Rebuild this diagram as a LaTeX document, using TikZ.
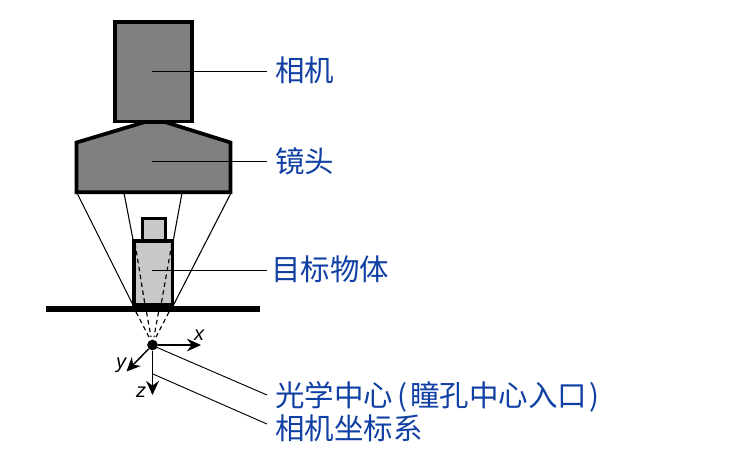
\documentclass[tikz,border=0pt]{standalone}
\usepackage{fontspec}
\setmainfont{Liberation Sans}
\setsansfont{Liberation Sans}
\newfontfamily\cjkfont{Noto Sans CJK SC}[Scale=1]
\usetikzlibrary{arrows.meta}
\definecolor{lbl}{HTML}{1040A4}
\definecolor{dark}{HTML}{808080}
\definecolor{lite}{HTML}{C8C8C8}
\tikzset{
  body/.style={draw=black,line width=2.8pt,fill=dark,line join=miter},
  objbody/.style={draw=black,line width=2.6pt,fill=lite,inner sep=0pt,outer sep=0pt},
  thin/.style={draw=black,line width=0.8pt},
  lead/.style={draw=black,line width=0.7pt},
  ray/.style={draw=black,line width=0.85pt,dash pattern=on 3.4pt off 2.6pt},
  axisline/.style={draw=black,line width=1.1pt,-{Stealth[length=10.5pt,width=9.5pt]}},
  lbltext/.style={text=lbl,font=\cjkfont\fontsize{22.1pt}{24pt}\selectfont,inner sep=0pt,anchor=west},
  axlbl/.style={font=\sffamily\itshape\fontsize{15pt}{16pt}\selectfont,inner sep=0pt,text=black},
}
\begin{document}
\begin{tikzpicture}[x=0.75pt,y=-0.75pt]
\useasboundingbox (0,0) rectangle (756,462);
% rays from lens to object
\coordinate (lbl) at (77,193); \coordinate (lbr) at (231,193);
\coordinate (lil) at (124,193); \coordinate (lir) at (182,193);
\coordinate (obl) at (133,305); \coordinate (obr) at (173.5,305);
\coordinate (otl) at (133.5,242); \coordinate (otr) at (173,242);
\draw[thin] (lbl) -- (obl);
\draw[thin] (lbr) -- (obr);
\draw[thin] (lil) -- (otl);
\draw[thin] (lir) -- (otr);
% object
\node[objbody,minimum width=17.25pt,minimum height=16.9pt] (objtop) at (154,229.7) {};
\node[objbody,minimum width=29pt,minimum height=48pt] (obj) at (153.3,273) {};
% inner dashed rays
\coordinate (dtl) at (135,243); \coordinate (dtr) at (172,243);
\coordinate (dbl) at (145,305); \coordinate (dbr) at (161,305);
\draw[ray] (dtl) -- (dbl);
\draw[ray] (dtr) -- (dbr);
% ground
\node[fill=black,minimum width=160.5pt,minimum height=3.8pt,inner sep=0pt,outer sep=0pt] (ground) at (153,309) {};
% camera and lens
\node[body,minimum width=57.8pt,minimum height=74.6pt,inner sep=0pt,outer sep=0pt] (cam) at (153.7,71.7) {};
\draw[body] (76.5,192.3) -- (76.5,142.5) -- (145,122) -- (165,122) -- (230.5,142.5) -- (230.5,192.3) -- cycle;
% origin
\node[circle,fill=black,minimum size=8pt,inner sep=0pt] (org) at (152.5,345) {};
\coordinate (b1) at (136,312); \coordinate (b2) at (146.5,312);
\coordinate (b3) at (158.5,312); \coordinate (b4) at (169,312);
\coordinate (o1) at (149,337); \coordinate (o2) at (151,337);
\coordinate (o3) at (154,337); \coordinate (o4) at (156,337);
\draw[ray] (b1) -- (o1);
\draw[ray] (b2) -- (o2);
\draw[ray] (b3) -- (o3);
\draw[ray] (b4) -- (o4);
% axes
\coordinate (xe) at (201,345); \coordinate (ye) at (126.5,371.5); \coordinate (ze) at (152.5,395);
\draw[axisline] (org) -- (xe);
\draw[axisline] (org) -- (ye);
\draw[axisline] (org) -- (ze);
\node[axlbl] (xl) at (199,335) {x};
\node[axlbl] (yl) at (121,365) {y};
\node[axlbl] (zl) at (141,392) {z};
% labels
\node[lbltext] (t1) at (275,70) {相机};
\node[lbltext] (t2) at (275,161) {镜头};
\node[lbltext] (t3) at (271,269) {目标物体};
\node[lbltext] (t4) at (275,397) {光学中心\hspace{3.5pt}(\hspace{2pt}瞳孔中心入口\hspace{2pt})};
\node[lbltext] (t5) at (275,428) {相机坐标系};
% leaders
\coordinate (a1) at (152,71); \coordinate (e1) at (267,71);
\coordinate (a2) at (152,161); \coordinate (e2) at (267,161);
\coordinate (a3) at (152,270); \coordinate (e3) at (267,270);
\coordinate (a4) at (156,347); \coordinate (e4) at (267,395);
\coordinate (a5) at (153,374); \coordinate (e5) at (267,424);
\draw[lead] (a1) -- (e1);
\draw[lead] (a2) -- (e2);
\draw[lead] (a3) -- (e3);
\draw[lead] (a4) -- (e4);
\draw[lead] (a5) -- (e5);
\end{tikzpicture}
\end{document}
